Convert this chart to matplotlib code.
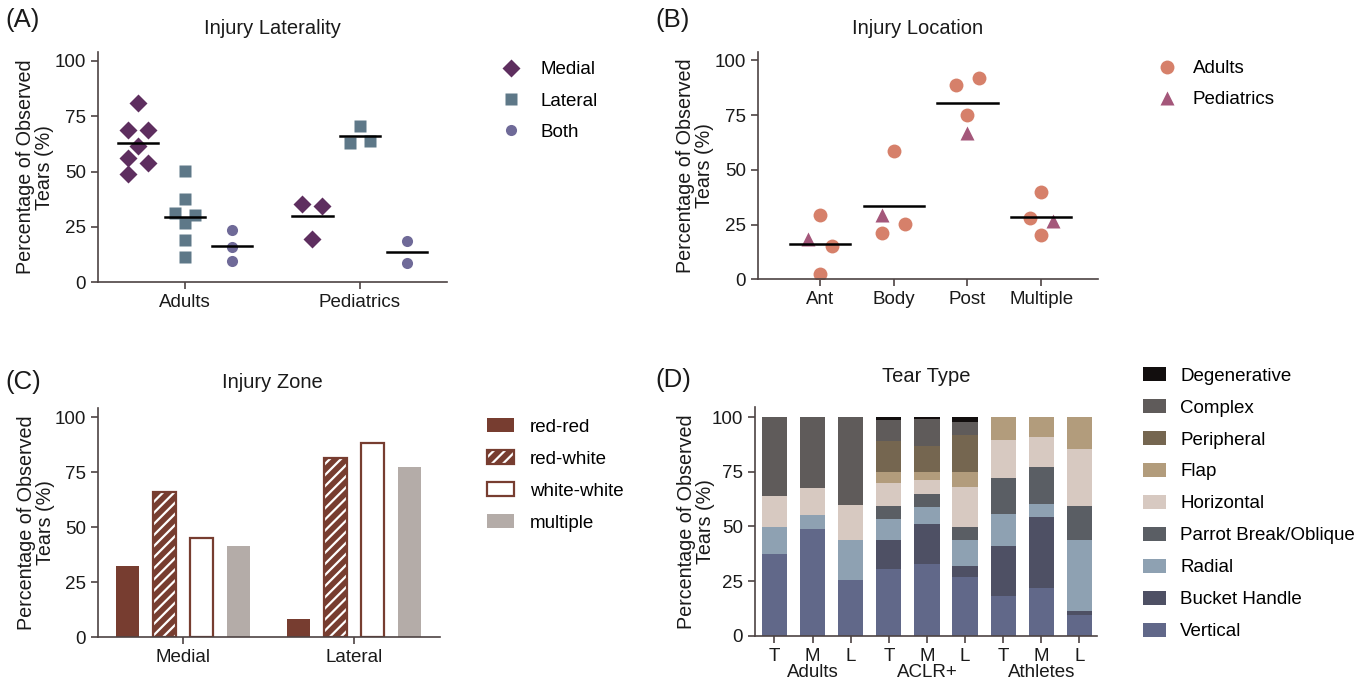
import matplotlib
matplotlib.use("Agg")
import matplotlib.pyplot as plt
import numpy as np
from matplotlib.lines import Line2D
from matplotlib.patches import Patch
from matplotlib.legend_handler import HandlerTuple

plt.rcParams['font.family'] = ['Liberation Sans', 'DejaVu Sans']
plt.rcParams['hatch.linewidth'] = 1.6

# ---------------- data ----------------
# Panel A: Injury Laterality
lat_groups = ["Adults", "Pediatrics"]
lat_series = ["Medial", "Lateral", "Both"]
adults_medial = [80.8, 69.0, 68.7, 61.5, 56.2, 53.7, 48.9]
adults_lateral = [50.4, 37.7, 31.1, 30.5, 26.9, 18.9, 11.6]
adults_both = [23.8, 15.8, 9.6]
peds_medial = [35.3, 34.6, 19.7]
peds_lateral = [70.7, 63.0, 63.9]
peds_both = [18.8, 8.7]
# beeswarm slot of each point (-1 left, 0 centre, 1 right)
adults_medial_slot = [0, -1, 1, 0, -1, 1, -1]
adults_lateral_slot = [0, 0, -1, 1, 0, 0, 0]
adults_both_slot = [0, 0, 0]
peds_medial_slot = [-1, 1, 0]
peds_lateral_slot = [0, -1, 1]
peds_both_slot = [0, 0]

# Panel B: Injury Location
loc_cats = ["Ant", "Body", "Post", "Multiple"]
loc_adults = [[29.3, 15.3, 2.4], [58.8, 25.4, 21.0], [88.8, 91.9, 74.9], [40.0, 28.0, 20.1]]
loc_adults_slot = [[0, 1, 0], [0, 1, -1], [-1, 1, 0], [0, -1, 0]]
loc_peds = [18.4, 29.5, 66.7, 26.6]
loc_peds_slot = [-1, -1, 0, 1]

# Panel C: Injury Zone
zone_groups = ["Medial", "Lateral"]
zone_series = ["red-red", "red-white", "white-white", "multiple"]
zone_medial = [32.6, 66.2, 44.9, 41.4]
zone_lateral = [8.4, 81.4, 88.3, 77.2]

# Panel D: Tear Type (bottom to top)
tear_types = ["Vertical", "Bucket Handle", "Radial", "Parrot Break/Oblique",
              "Horizontal", "Flap", "Peripheral", "Complex", "Degenerative"]
tear_bars = ["T", "M", "L", "T", "M", "L", "T", "M", "L"]
tear_groups = ["Adults", "ACLR+", "Athletes"]
vertical = [37.5, 48.8, 25.5, 30.6, 32.9, 26.9, 18.1, 21.9, 9.3]
bucket = [0, 0, 0, 13.0, 18.0, 4.8, 23.0, 32.4, 2.0]
radial = [12.2, 6.6, 18.4, 9.6, 8.1, 12.2, 14.4, 6.1, 32.5]
parrot = [0, 0, 0, 6.0, 5.9, 6.0, 16.5, 17.0, 15.6]
horizontal = [14.4, 12.4, 15.9, 10.5, 6.2, 18.0, 17.4, 13.7, 25.8]
flap = [0, 0, 0, 5.2, 4.0, 7.0, 10.6, 8.9, 14.8]
peripheral = [0, 0, 0, 14.0, 11.9, 17.0, 0, 0, 0]
complex_ = [35.9, 32.2, 40.2, 9.9, 12.2, 6.0, 0, 0, 0]
degenerative = [0, 0, 0, 1.2, 0.8, 2.1, 0, 0, 0]

# ---------------- style ----------------
AX = "#4d4343"
FS = 13.5
c_medial, c_lateral, c_both = "#5e2e5f", "#5e7888", "#6f6a98"
c_adult, c_ped = "#d6806a", "#a4577a"
c_red, c_multi = "#773d30", "#b4aca8"
tear_colors = ["#616889", "#4e5064", "#8ea1b2", "#5a5e64", "#d7c9c1",
               "#b29c7c", "#756650", "#5f5b5a", "#120e0e"]

W, H = 1368, 688
fig = plt.figure(figsize=(W / 100, H / 100), dpi=100)


def axes_px(l, r, b, t):
    return fig.add_axes([l / W, 1 - b / H, (r - l) / W, (b - t) / H])


def style(ax, yl_x):
    for s in ["top", "right"]:
        ax.spines[s].set_visible(False)
    for s in ["left", "bottom"]:
        ax.spines[s].set_color(AX)
        ax.spines[s].set_linewidth(1.2)
    ax.tick_params(colors=AX, labelcolor="#1a1a1a", labelsize=FS, width=1.2, length=5)
    ax.set_yticks([0, 25, 50, 75, 100])
    ax.set_ylabel("Percentage of Observed\nTears (%)", fontsize=14.2, color="#1a1a1a",
                  linespacing=1.0)
    ax.yaxis.set_label_coords(yl_x, 0.5)


def ftext(x, y, s, size=14.5, ha="center"):
    fig.text(x / W, 1 - y / H, s, fontsize=size, ha=ha, va="center", color="#1a1a1a")


def legend(handles, labels, x, y, hl, pad, ls=0.76, **kw):
    fig.legend(handles, labels, loc="upper left", bbox_to_anchor=(x / W, 1 - y / H),
               frameon=False, fontsize=FS, borderpad=0, borderaxespad=0, handlelength=hl,
               handletextpad=pad, labelspacing=ls, **kw)


# ---------------- Panel A ----------------
axA = axes_px(98, 447, 282.3, 52)
style(axA, -0.125)
axA.set_xlim(-0.497, 1.5)
axA.set_ylim(0, 104)
off = 0.27
jit = 0.057
hw = 0.115
gdata = [
    [(adults_medial, adults_medial_slot), (adults_lateral, adults_lateral_slot), (adults_both, adults_both_slot)],
    [(peds_medial, peds_medial_slot), (peds_lateral, peds_lateral_slot), (peds_both, peds_both_slot)],
]
mk = [("D", c_medial, 8.8), ("s", c_lateral, 8.0), ("o", c_both, 8.0)]
for gi, grp in enumerate(gdata):
    for si, (vals, slots) in enumerate(grp):
        cx = gi + (si - 1) * off
        xs = cx + np.array(slots) * jit
        m, c, ms = mk[si]
        axA.plot(xs, vals, ls="none", marker=m, color=c, ms=ms, mec="none", zorder=2)
        mean = np.mean(vals)
        axA.plot([cx - hw, cx + hw], [mean, mean], color="black", lw=1.8, zorder=3)
axA.set_xticks([0, 1])
axA.set_xticklabels(lat_groups)
hA = [Line2D([], [], ls="none", marker=m, color=c, ms=ms, mec="none") for m, c, ms in mk]
legend(hA, lat_series, 502, 61, 0.96, 1.07)

# ---------------- Panel B ----------------
axB = axes_px(757.7, 1098, 279.3, 51.7)
style(axB, -0.127)
axB.set_xlim(-0.845, 3.77)
axB.set_ylim(0, 104)
jb = 0.158
hwb = 0.41
for i in range(len(loc_cats)):
    xa = i + np.array(loc_adults_slot[i]) * jb
    axB.plot(xa, loc_adults[i], ls="none", marker="o", color=c_adult, ms=10, mec="none", zorder=2)
    axB.plot([i + loc_peds_slot[i] * jb], [loc_peds[i]], ls="none", marker="^", color=c_ped,
             ms=9.5, mec="none", zorder=2)
    mean = np.mean(loc_adults[i] + [loc_peds[i]])
    axB.plot([i - hwb, i + hwb], [mean, mean], color="black", lw=1.8, zorder=3)
axB.set_xticks(range(len(loc_cats)))
axB.set_xticklabels(loc_cats)
hB = [Line2D([], [], ls="none", marker="o", color=c_adult, ms=10, mec="none"),
      Line2D([], [], ls="none", marker="^", color=c_ped, ms=9.5, mec="none")]
legend(hB, ["Adults", "Pediatrics"], 1158, 60, 0.96, 0.9, ls=0.75)

# ---------------- Panel C ----------------
axC = axes_px(98, 440, 637.3, 408.3)
style(axC, -0.127)
axC.set_xlim(-0.497, 1.503)
axC.set_ylim(0, 104)
bw = 0.135
sp = 0.216
zone_vals = [zone_medial, zone_lateral]
for gi in range(2):
    for si in range(4):
        x = gi + (si - 1.5) * sp
        v = zone_vals[gi][si]
        if si == 0:
            axC.bar(x, v, bw, facecolor=c_red, edgecolor="none")
        elif si == 1:
            axC.bar(x, v, bw, facecolor=c_red, edgecolor="white", hatch="///", lw=0)
            axC.bar(x, v, bw, facecolor="none", edgecolor=c_red, lw=1.6)
        elif si == 2:
            axC.bar(x, v, bw, facecolor="white", edgecolor=c_red, lw=1.6)
        else:
            axC.bar(x, v, bw, facecolor=c_multi, edgecolor="none")
axC.set_xticks([0, 1])
axC.set_xticklabels(zone_groups)
hC = [Patch(facecolor=c_red, edgecolor="none"),
      (Patch(facecolor=c_red, edgecolor="white", hatch="///", lw=0),
       Patch(facecolor="none", edgecolor=c_red, lw=1.6)),
      Patch(facecolor="white", edgecolor=c_red, lw=1.6),
      Patch(facecolor=c_multi, edgecolor="none")]
legend(hC, zone_series, 487, 418, 1.44, 0.85, handleheight=0.8,
       handler_map={tuple: HandlerTuple(ndivide=1)})

# ---------------- Panel D ----------------
axD = axes_px(755, 1097, 635.7, 407.3)
style(axD, -0.118)
axD.set_xlim(-0.51, 8.46)
axD.set_ylim(0, 104.5)
segs = [vertical, bucket, radial, parrot, horizontal, flap, peripheral, complex_, degenerative]
xs = np.arange(len(tear_bars))
bottom = np.zeros(len(tear_bars))
for vals, col in zip(segs, tear_colors):
    axD.bar(xs, vals, 0.66, bottom=bottom, color=col, edgecolor="none")
    bottom += np.array(vals)
axD.set_xticks(xs)
axD.set_xticklabels(tear_bars)
for gi, g in enumerate(tear_groups):
    axD.text(gi * 3 + 1, -0.159, g, transform=axD.get_xaxis_transform(), ha="center",
             va="center", fontsize=FS, color="#1a1a1a")
hD = [Patch(facecolor=c, edgecolor="none") for c in tear_colors][::-1]
legend(hD, tear_types[::-1], 1143, 367, 1.23, 0.75, handleheight=0.8)

# ---------------- titles & panel labels ----------------
ftext(272, 28, "Injury Laterality")
ftext(918, 28, "Injury Location")
ftext(272, 383, "Injury Zone")
ftext(926, 376, "Tear Type")
ftext(5, 20, "(A)", size=18.5, ha="left")
ftext(655, 20, "(B)", size=18.5, ha="left")
ftext(5, 382, "(C)", size=18.5, ha="left")
ftext(655, 380, "(D)", size=18.5, ha="left")

fig.savefig("out.png", dpi=100)
